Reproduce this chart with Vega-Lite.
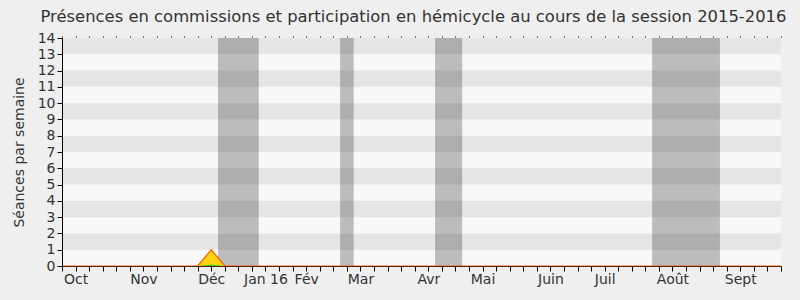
{
  "$schema": "https://vega.github.io/schema/vega-lite/v6.json",
  "width": 719,
  "height": 228,
  "autosize": {"type": "none"},
  "padding": {"left": 62, "top": 38, "right": 19, "bottom": 34},
  "background": "#efefef",
  "title": {
    "text": "Présences en commissions et participation en hémicycle au cours de la session 2015-2016",
    "font": "DejaVu Sans",
    "fontSize": 16.4,
    "fontWeight": "normal",
    "color": "#333333",
    "anchor": "middle",
    "dx": -8,
    "offset": 6
  },
  "datasets": {
    "bandes": [
      {"bas": 1, "haut": 2}, {"bas": 3, "haut": 4}, {"bas": 5, "haut": 6},
      {"bas": 7, "haut": 8}, {"bas": 9, "haut": 10}, {"bas": 11, "haut": 12},
      {"bas": 13, "haut": 14}
    ],
    "vacances": [
      {"debut": 11.5, "fin": 14.5},
      {"debut": 20.5, "fin": 21.5},
      {"debut": 27.5, "fin": 29.5},
      {"debut": 43.5, "fin": 48.5}
    ],
    "semaines": [
      {"semaine": 0, "commission": 0, "hemicycle": 0},
      {"semaine": 1, "commission": 0, "hemicycle": 0},
      {"semaine": 2, "commission": 0, "hemicycle": 0},
      {"semaine": 3, "commission": 0, "hemicycle": 0},
      {"semaine": 4, "commission": 0, "hemicycle": 0},
      {"semaine": 5, "commission": 0, "hemicycle": 0},
      {"semaine": 6, "commission": 0, "hemicycle": 0},
      {"semaine": 7, "commission": 0, "hemicycle": 0},
      {"semaine": 8, "commission": 0, "hemicycle": 0},
      {"semaine": 9, "commission": 0, "hemicycle": 0},
      {"semaine": 10, "commission": 0, "hemicycle": 0},
      {"semaine": 11, "commission": 1, "hemicycle": 0.08},
      {"semaine": 12, "commission": 0, "hemicycle": 0},
      {"semaine": 13, "commission": 0, "hemicycle": 0},
      {"semaine": 14, "commission": 0, "hemicycle": 0},
      {"semaine": 15, "commission": 0, "hemicycle": 0},
      {"semaine": 16, "commission": 0, "hemicycle": 0},
      {"semaine": 17, "commission": 0, "hemicycle": 0},
      {"semaine": 18, "commission": 0, "hemicycle": 0},
      {"semaine": 19, "commission": 0, "hemicycle": 0},
      {"semaine": 20, "commission": 0, "hemicycle": 0},
      {"semaine": 21, "commission": 0, "hemicycle": 0},
      {"semaine": 22, "commission": 0, "hemicycle": 0},
      {"semaine": 23, "commission": 0, "hemicycle": 0},
      {"semaine": 24, "commission": 0, "hemicycle": 0},
      {"semaine": 25, "commission": 0, "hemicycle": 0},
      {"semaine": 26, "commission": 0, "hemicycle": 0},
      {"semaine": 27, "commission": 0, "hemicycle": 0},
      {"semaine": 28, "commission": 0, "hemicycle": 0},
      {"semaine": 29, "commission": 0, "hemicycle": 0},
      {"semaine": 30, "commission": 0, "hemicycle": 0},
      {"semaine": 31, "commission": 0, "hemicycle": 0},
      {"semaine": 32, "commission": 0, "hemicycle": 0},
      {"semaine": 33, "commission": 0, "hemicycle": 0},
      {"semaine": 34, "commission": 0, "hemicycle": 0},
      {"semaine": 35, "commission": 0, "hemicycle": 0},
      {"semaine": 36, "commission": 0, "hemicycle": 0},
      {"semaine": 37, "commission": 0, "hemicycle": 0},
      {"semaine": 38, "commission": 0, "hemicycle": 0},
      {"semaine": 39, "commission": 0, "hemicycle": 0},
      {"semaine": 40, "commission": 0, "hemicycle": 0},
      {"semaine": 41, "commission": 0, "hemicycle": 0},
      {"semaine": 42, "commission": 0, "hemicycle": 0},
      {"semaine": 43, "commission": 0, "hemicycle": 0},
      {"semaine": 44, "commission": 0, "hemicycle": 0},
      {"semaine": 45, "commission": 0, "hemicycle": 0},
      {"semaine": 46, "commission": 0, "hemicycle": 0},
      {"semaine": 47, "commission": 0, "hemicycle": 0},
      {"semaine": 48, "commission": 0, "hemicycle": 0},
      {"semaine": 49, "commission": 0, "hemicycle": 0},
      {"semaine": 50, "commission": 0, "hemicycle": 0},
      {"semaine": 51, "commission": 0, "hemicycle": 0},
      {"semaine": 52, "commission": 0, "hemicycle": 0},
      {"semaine": 53, "commission": 0, "hemicycle": 0}
    ]
  },
  "config": {
    "view": {"fill": "#f8f8f8", "stroke": null},
    "axis": {
      "labelFont": "DejaVu Sans",
      "labelFontSize": 14,
      "labelColor": "#333333",
      "titleFont": "DejaVu Sans",
      "titleFontSize": 14,
      "titleFontWeight": "normal",
      "titleColor": "#333333",
      "domainColor": "#000000",
      "tickColor": "#000000",
      "grid": false
    }
  },
  "resolve": {"axis": {"x": "independent"}},
  "layer": [
    {
      "data": {"name": "bandes"},
      "mark": {"type": "rect", "color": "#e5e5e5"},
      "encoding": {
        "y": {
          "field": "bas",
          "type": "quantitative",
          "scale": {"domain": [0, 14], "nice": false},
          "axis": {
            "title": "Séances par semaine",
            "zindex": 1,
            "values": [0, 1, 2, 3, 4, 5, 6, 7, 8, 9, 10, 11, 12, 13, 14],
            "tickSize": 5,
            "labelPadding": 2,
            "labelOverlap": false,
            "titlePadding": 11
          }
        },
        "y2": {"field": "haut"}
      }
    },
    {
      "data": {"name": "vacances"},
      "mark": {"type": "rect", "color": "#000000", "opacity": 0.24},
      "encoding": {
        "x": {"field": "debut", "type": "quantitative", "axis": null},
        "x2": {"field": "fin"}
      }
    },
    {
      "data": {"name": "semaines"},
      "mark": {
        "type": "area",
        "color": "#ffd30f",
        "opacity": 1,
        "line": {"color": "#ff5a00", "strokeWidth": 1.2}
      },
      "encoding": {
        "x": {
          "field": "semaine",
          "type": "quantitative",
          "scale": {"domain": [0, 53], "nice": false, "zero": false},
          "axis": {
            "title": null,
            "zindex": 1,
            "domainColor": "#5a1e0e",
            "values": [0, 1, 2, 3, 4, 5, 6, 7, 8, 9, 10, 11, 12, 13, 14, 15, 16, 17, 18, 19, 20, 21, 22, 23, 24, 25, 26, 27, 28, 29, 30, 31, 32, 33, 34, 35, 36, 37, 38, 39, 40, 41, 42, 43, 44, 45, 46, 47, 48, 49, 50, 51, 52, 53],
            "tickSize": 5,
            "labelPadding": 1,
            "labelOverlap": false,
            "labelFlush": false,
            "labelExpr": "datum.value == 1 ? 'Oct' : datum.value == 6 ? 'Nov' : datum.value == 11 ? 'Déc' : datum.value == 15 ? 'Jan 16' : datum.value == 18 ? 'Fév' : datum.value == 22 ? 'Mar' : datum.value == 27 ? 'Avr' : datum.value == 31 ? 'Mai' : datum.value == 36 ? 'Juin' : datum.value == 40 ? 'Juil' : datum.value == 45 ? 'Août' : datum.value == 50 ? 'Sept' : ''"
          }
        },
        "y": {
          "field": "commission",
          "type": "quantitative",
          "axis": {
            "title": "Séances par semaine",
            "zindex": 1,
            "values": [0, 1, 2, 3, 4, 5, 6, 7, 8, 9, 10, 11, 12, 13, 14],
            "tickSize": 5,
            "labelPadding": 2,
            "labelOverlap": false,
            "titlePadding": 11
          }
        }
      }
    },
    {
      "data": {"name": "semaines"},
      "mark": {"type": "area", "color": "#22cc22", "opacity": 1},
      "encoding": {
        "x": {"field": "semaine", "type": "quantitative", "axis": null},
        "y": {
          "field": "hemicycle",
          "type": "quantitative",
          "axis": {
            "title": "Séances par semaine",
            "zindex": 1,
            "values": [0, 1, 2, 3, 4, 5, 6, 7, 8, 9, 10, 11, 12, 13, 14],
            "tickSize": 5,
            "labelPadding": 2,
            "labelOverlap": false,
            "titlePadding": 11
          }
        }
      }
    },
    {
      "mark": {"type": "rule", "color": "#c8c8c8", "strokeWidth": 1},
      "encoding": {
        "x": {
          "datum": 53,
          "type": "quantitative",
          "axis": {
            "orient": "top",
            "title": null,
            "domain": false,
            "labels": false,
            "tickSize": 1,
            "offset": 1,
            "values": [0, 1, 2, 3, 4, 5, 6, 7, 8, 9, 10, 11, 12, 13, 14, 15, 16, 17, 18, 19, 20, 21, 22, 23, 24, 25, 26, 27, 28, 29, 30, 31, 32, 33, 34, 35, 36, 37, 38, 39, 40, 41, 42, 43, 44, 45, 46, 47, 48, 49, 50, 51, 52, 53]
          }
        }
      }
    }
  ]
}
